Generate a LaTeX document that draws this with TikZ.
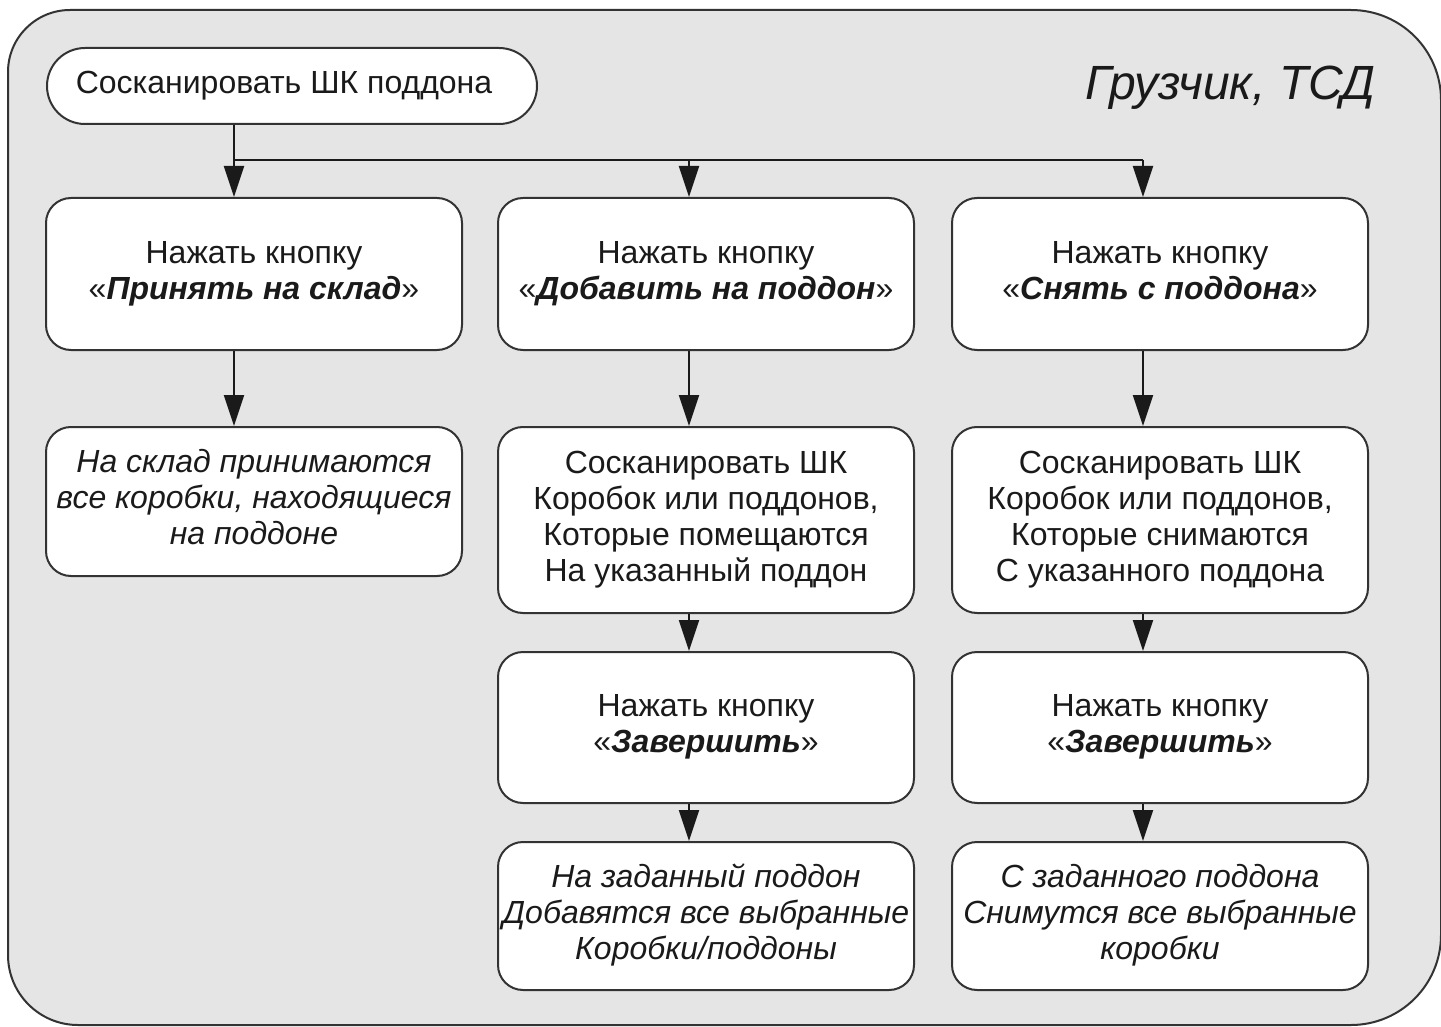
\documentclass[tikz,border=0pt]{standalone}
\usepackage{fontspec}
\setmainfont{Liberation Sans}
\usetikzlibrary{arrows.meta}
\definecolor{framefill}{HTML}{E5E5E5}
\definecolor{edge}{HTML}{333333}
\definecolor{ink}{HTML}{1A1A1A}
\tikzset{
  frame/.style={draw=edge, line width=2pt, fill=framefill},
  stepbox/.style={draw=edge, line width=2pt, fill=white, rounded corners=25pt,
    minimum width=416pt, inner sep=0pt, align=center, text=ink,
    font=\fontsize{32}{36}\selectfont},
  startbox/.style={draw=edge, line width=2pt, fill=white, rounded corners=38pt,
    minimum width=490pt, minimum height=76pt, inner sep=0pt, align=center, text=ink,
    font=\fontsize{32}{36}\selectfont},
  itbox/.style={stepbox, font=\fontsize{32}{36}\selectfont\itshape},
  arr/.style={draw=ink, line width=2pt, -{Triangle[length=31pt,width=20pt]}},
  conn/.style={draw=ink, line width=2pt},
}
\newcommand{\bi}[1]{\textbf{\textit{#1}}}
\begin{document}
\begin{tikzpicture}[x=1pt,y=-1pt]
\useasboundingbox (0,0) rectangle (1441,1027);
\path[frame] (8,500) [rounded corners=62pt] -- (8,10) [rounded corners=90pt] -- (1441,10) -- (1441,1025) [rounded corners=70pt] -- (8,1025) -- cycle;

\node[anchor=base east, text=ink, font=\fontsize{48}{52}\selectfont\itshape] (title) at (1379,100) {Грузчик, ТСД};

\node[startbox] (start) at (292,86) {\strut Сосканировать ШК поддона\hspace*{16pt}};

\node[stepbox, minimum height=152pt] (a1) at (254,274) {\strut Нажать кнопку\\\strut«\bi{Принять на склад}»};
\node[itbox, minimum height=149pt] (a2) at (254,501.5) {\strut На склад принимаются\\\strut все коробки, находящиеся\\\strut на поддоне};

\node[stepbox, minimum height=152pt] (b1) at (706,274) {\strut Нажать кнопку\\\strut«\bi{Добавить на поддон}»};
\node[stepbox, minimum height=186pt] (b2) at (706,520) {\strut Сосканировать ШК\\\strut Коробок или поддонов,\\\strut Которые помещаются\\\strut На указанный поддон};
\node[stepbox, minimum height=151pt] (b3) at (706,727.5) {\strut Нажать кнопку\\\strut«\bi{Завершить}»};
\node[itbox, minimum height=148pt] (b4) at (706,916) {\strut На заданный поддон\\\strut Добавятся все выбранные\\\strut Коробки/поддоны};

\node[stepbox, minimum height=152pt] (c1) at (1160,274) {\strut Нажать кнопку\\\strut«\bi{Снять с поддона}»};
\node[stepbox, minimum height=186pt] (c2) at (1160,520) {\strut Сосканировать ШК\\\strut Коробок или поддонов,\\\strut Которые снимаются\\\strut С указанного поддона};
\node[stepbox, minimum height=151pt] (c3) at (1160,727.5) {\strut Нажать кнопку\\\strut«\bi{Завершить}»};
\node[itbox, minimum height=148pt] (c4) at (1160,916) {\strut С заданного поддона\\\strut Снимутся все выбранные\\\strut коробки};

\coordinate (colA) at (234,160);
\coordinate (colB) at (689,160);
\coordinate (colC) at (1143,160);

\draw[conn] (start.south -| colA) -- (colA) -- (colC);
\draw[arr] (colA) -- (a1.north -| colA);
\draw[arr] (colB) -- (b1.north -| colB);
\draw[arr] (colC) -- (c1.north -| colC);

\draw[arr] (a1.south -| colA) -- (a2.north -| colA);
\draw[arr] (b1.south -| colB) -- (b2.north -| colB);
\draw[arr] (b2.south -| colB) -- (b3.north -| colB);
\draw[arr] (b3.south -| colB) -- (b4.north -| colB);
\draw[arr] (c1.south -| colC) -- (c2.north -| colC);
\draw[arr] (c2.south -| colC) -- (c3.north -| colC);
\draw[arr] (c3.south -| colC) -- (c4.north -| colC);
\end{tikzpicture}
\end{document}
